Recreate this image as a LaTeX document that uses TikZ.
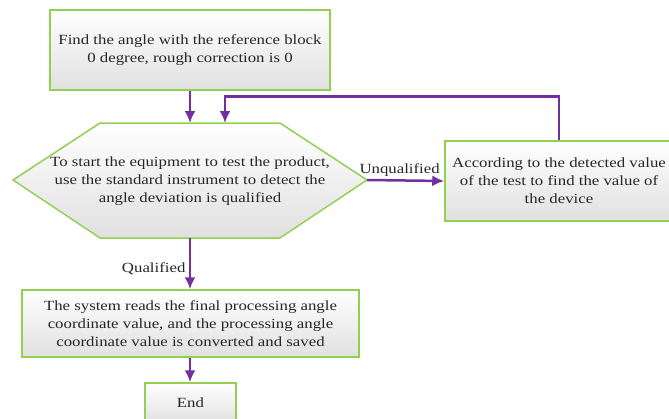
\documentclass[tikz,border=0pt]{standalone}
\usepackage{fontspec}
\setmainfont[FakeStretch=1.2]{Liberation Serif}
\usetikzlibrary{arrows.meta}
\definecolor{boxgreen}{HTML}{92D050}
\definecolor{flowpurple}{HTML}{7030A0}

\begin{document}
\begin{tikzpicture}[x=1pt, y=-1pt,
	every node/.style={font=\fontsize{14}{18}\selectfont, text=black!85},
	stepbox/.style={draw=boxgreen, line width=1.5pt, top color=white, bottom color=black!12, align=center, inner sep=0pt},
	flow/.style={flowpurple, line width=2.5pt, -{Latex[length=12pt,width=11pt]}}]
	\useasboundingbox (0,0) rectangle (669,418);
	\node[stepbox, minimum width=280pt, minimum height=80pt] (find) at (190,50) {Find the angle with the reference block\\0 degree, rough correction is 0};
	% hexagon decision
	\coordinate (hexL) at (13,180);
	\coordinate (hexTL) at (100,123);
	\coordinate (hexTR) at (280,123);
	\coordinate (hexR) at (367,180);
	\coordinate (hexBR) at (280,238);
	\coordinate (hexBL) at (100,238);
	\coordinate (hexN) at (190,123);
	\coordinate (hexS) at (190,238);
	\coordinate (loopIn) at (225,123);
	\draw[draw=boxgreen, line width=1.5pt, top color=white, bottom color=black!12] (hexL) -- (hexTL) -- (hexTR) -- (hexR) -- (hexBR) -- (hexBL) -- cycle;
	\node[align=center] (test) at (190,181) {To start the equipment to test the product,\\use the standard instrument to detect the\\angle deviation is qualified};
	\node[stepbox, minimum width=228pt, minimum height=80pt] (adjust) at (559,181) {According to the detected value\\of the test to find the value of\\the device};
	\node[stepbox, minimum width=337pt, minimum height=67pt] (save) at (190.5,323.5) {The system reads the final processing angle\\coordinate value, and the processing angle\\coordinate value is converted and saved};
	\node[stepbox, minimum width=91pt, minimum height=40pt] (end) at (190.5,403) {End};
	\draw[flow] (find.south -| hexN) -- (hexN);
	\draw[flow] (hexR) -- node[above, xshift=-6pt, yshift=-1pt] {Unqualified} (adjust.west);
	\draw[flow] (adjust.north) -- ++(0,-44) -| (loopIn);
	\draw[flow] (hexS) -- node[left, yshift=-5pt] {Qualified} (save.north -| hexS);
	\draw[flow] (save.south -| hexS) -- (end.north -| hexS);
\end{tikzpicture}
\end{document}
